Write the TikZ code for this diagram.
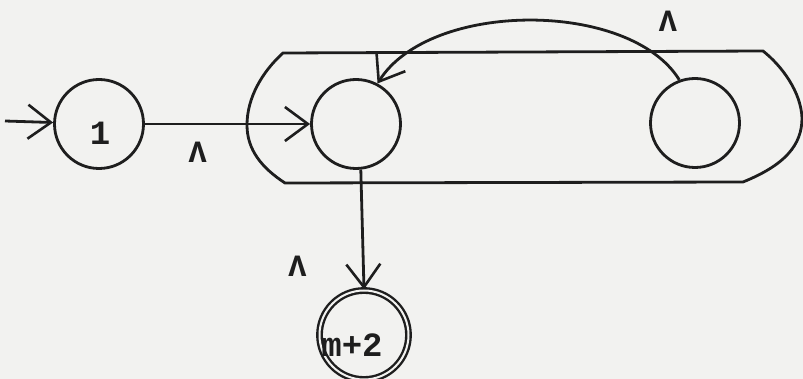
\documentclass[tikz,border=0pt]{standalone}
\usepackage{fontspec}
\newfontfamily\tw{Liberation Mono}
\usetikzlibrary{arrows.meta}
\definecolor{ink}{RGB}{30,30,30}
\definecolor{paper}{RGB}{242,242,240}
\begin{document}
\begin{tikzpicture}[x=1pt,y=-1pt,
  line width=2.8pt, draw=ink,
  state/.style={circle,draw=ink,line width=2.8pt,minimum size=89pt,inner sep=0pt},
  final/.style={state,double=paper,double distance=2pt,line width=2.4pt},
  arr/.style={-{Straight Barb[length=23pt,width=34pt,line width=2.6pt]}},
  lbl/.style={font=\tw\bfseries\fontsize{34}{36}\selectfont,text=ink},
  lam/.style={font=\tw\bfseries\fontsize{31}{34}\selectfont,text=ink,inner sep=0pt}]
\useasboundingbox (0,0) rectangle (803,379);
\fill[paper] (0,0) rectangle (803,379);
% states
\node[state,label={[lbl,xshift=1pt,yshift=-9pt]center:1}] (c1) at (99,124) {};
\node[state] (c2) at (356,124) {};
\node[state] (c4) at (695,123) {};
\node[final,label={[lbl,xshift=-12pt,yshift=-10pt]center:m+2}] (c3) at (364,335) {};
% enclosing group
\draw[ink] (283,53) -- (763,51)
  .. controls (782,66) and (801,92) .. (802,118)
  .. controls (802,145) and (785,165) .. (743,182)
  -- (285,183)
  .. controls (262,168) and (247,150) .. (247,125)
  .. controls (247,98) and (262,72) .. (283,53) -- cycle;
% connectors
\coordinate (in) at (5,121);
\draw[arr] (in) -- (c1);
\draw[arr] (c1) -- node[lam,pos=0.32,yshift=-28pt]{Λ} (c2);
\draw[arr] (c4.110) .. controls (630,0) and (430,0) .. node[lam,pos=0.15,xshift=20pt,yshift=28pt]{Λ} (c2.62);
\draw[arr] (c2.-84) -- node[lam,pos=0.81,xshift=-66pt]{Λ} (c3.north);
\end{tikzpicture}
\end{document}
